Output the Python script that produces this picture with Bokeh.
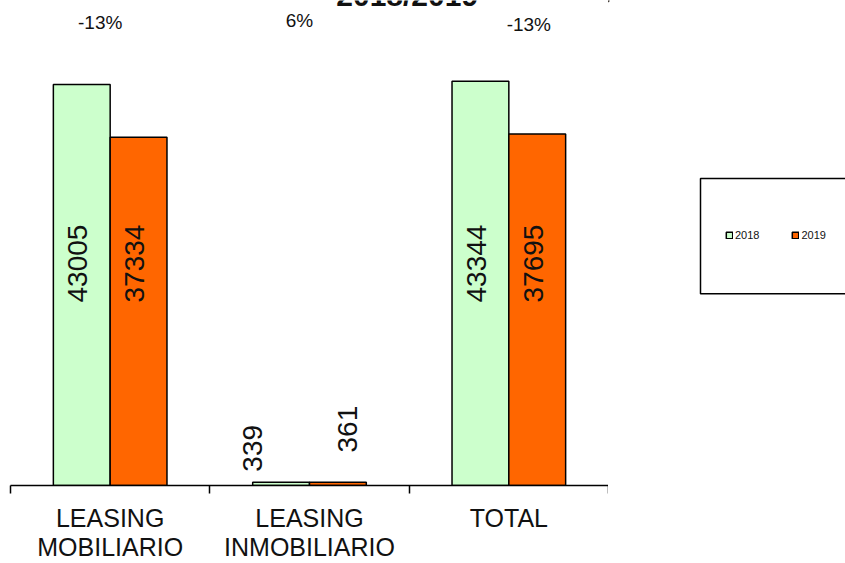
import math
from bokeh.plotting import figure
from bokeh.models import ColumnDataSource, FixedTicker, Range1d, Legend, LegendItem
from bokeh.layouts import row
from bokeh.core.properties import value
from bokeh.embed import file_html
from bokeh.resources import INLINE

# ---- data ----
title_text = "2018/2019"
categories = ["LEASING\nMOBILIARIO", "LEASING\nINMOBILIARIO", "TOTAL"]
series_names = ["2018", "2019"]
values_2018 = [43005, 339, 43344]
values_2019 = [37334, 361, 37695]

# ---- style ----
FONT = "Liberation Sans"
GREEN = "#CCFFCC"
ORANGE = "#FF6600"
BAR_W = 0.285
Y_END = 52000
LABEL_MID = 23800          # height of in-bar labels (style)
pct_dx = [-10, -10, 20]    # pixel nudges of the % labels
pct_dy = [22, 20, 24]
TITLE_X = 1.99             # title centre, in category units (cut off at top as in the reference)
TITLE_DY = -5

W_MAIN, W_LEG, H = 608, 237, 563
FRAME_H = 488

p = figure(width=W_MAIN, height=H, output_backend="svg", toolbar_location=None,
           x_range=Range1d(0, len(categories)), y_range=Range1d(0, Y_END),
           min_border_left=10, min_border_right=0, min_border_top=0,
           min_border_bottom=H - FRAME_H)
p.outline_line_color = None
p.xgrid.visible = False
p.ygrid.visible = False
p.yaxis.visible = False

centers = [i + 0.5 for i in range(len(categories))]
p.xaxis.ticker = FixedTicker(ticks=centers, minor_ticks=list(range(len(categories) + 1)))
p.xaxis.major_label_overrides = {c: lab for c, lab in zip(centers, categories)}
p.xaxis.major_tick_out = 0
p.xaxis.major_tick_in = 0
p.xaxis.minor_tick_out = 8
p.xaxis.minor_tick_in = 0
p.xaxis.minor_tick_line_color = "black"
p.xaxis.minor_tick_line_width = 1.5
p.xaxis.axis_line_color = "black"
p.xaxis.axis_line_width = 1.5
p.xaxis.major_label_standoff = 10
p.xaxis.major_label_text_font = FONT
p.xaxis.major_label_text_font_size = "25px"
p.xaxis.major_label_text_line_height = 1.05
p.xaxis.major_label_text_color = "#111111"

for name, vals, color, sign in [("2018", values_2018, GREEN, -1), ("2019", values_2019, ORANGE, 1)]:
    xs = [c + sign * BAR_W / 2 for c in centers]
    src = ColumnDataSource(dict(x=xs, top=vals))
    p.vbar(x="x", top="top", width=BAR_W, source=src,
           fill_color=color, line_color="black", line_width=1.5)

    # value labels
    small_dx = -29 if name == "2018" else 10
    small_dy = -34 if name == "2018" else -53
    ly = [v if v < 5000 else LABEL_MID for v in vals]
    xo = [small_dx if v < 5000 else -4 for v in vals]
    yo = [small_dy if v < 5000 else 0 for v in vals]
    lsrc = ColumnDataSource(dict(x=xs, y=ly, t=[str(v) for v in vals], xo=xo, yo=yo))
    p.text(x="x", y="y", text="t", x_offset="xo", y_offset="yo", source=lsrc,
           angle=math.pi / 2, text_align="center", text_baseline="middle",
           text_font=value(FONT), text_font_size="28px", text_color="#111111")

# percentage change labels
pct = [f"{round((b - a) / a * 100)}%" for a, b in zip(values_2018, values_2019)]
psrc = ColumnDataSource(dict(x=centers, y=[Y_END] * len(centers), t=pct, xo=pct_dx, yo=pct_dy))
p.text(x="x", y="y", text="t", x_offset="xo", y_offset="yo", source=psrc,
       text_align="center", text_baseline="middle",
       text_font=value(FONT), text_font_size="19px", text_color="#111111")

# title, cut off by the top edge as in the reference
p.text(x=[TITLE_X], y=[Y_END], text=[title_text], y_offset=TITLE_DY,
       text_align="center", text_baseline="alphabetic",
       text_font=value(FONT), text_font_style="bold", text_font_size="30px",
       text_color="#111111")

# ---- legend panel (frame aligned with the main frame by the row layout) ----
lf = figure(width=W_LEG, height=H, output_backend="svg", toolbar_location=None,
            x_range=Range1d(0, W_LEG), y_range=Range1d(FRAME_H, 0),
            x_axis_type=None, y_axis_type=None,
            min_border_left=0, min_border_right=0, min_border_top=0,
            min_border_bottom=H - FRAME_H)
lf.outline_line_color = None
lf.xgrid.visible = False
lf.ygrid.visible = False
lf.quad(left=[92], right=[W_LEG + 30], top=[179], bottom=[295],
        fill_color=None, line_color="black", line_width=1.5)
items = []
for name, color in zip(series_names, [GREEN, ORANGE]):
    dr = lf.vbar(x=[-1000], top=[1], width=1, fill_color=color, line_color="black", line_width=1.5)
    items.append(LegendItem(label=name, renderers=[dr]))
leg = Legend(items=items, orientation="horizontal", location=(117, 244),
             border_line_color=None, background_fill_alpha=0, padding=0, margin=0,
             glyph_width=8, glyph_height=8, label_standoff=2, spacing=32,
             label_text_font=FONT, label_text_font_size="11px", label_text_color="#111111")
lf.add_layout(leg, "center")

layout = row(p, lf)
open("out.html", "w").write(file_html(layout, INLINE))
